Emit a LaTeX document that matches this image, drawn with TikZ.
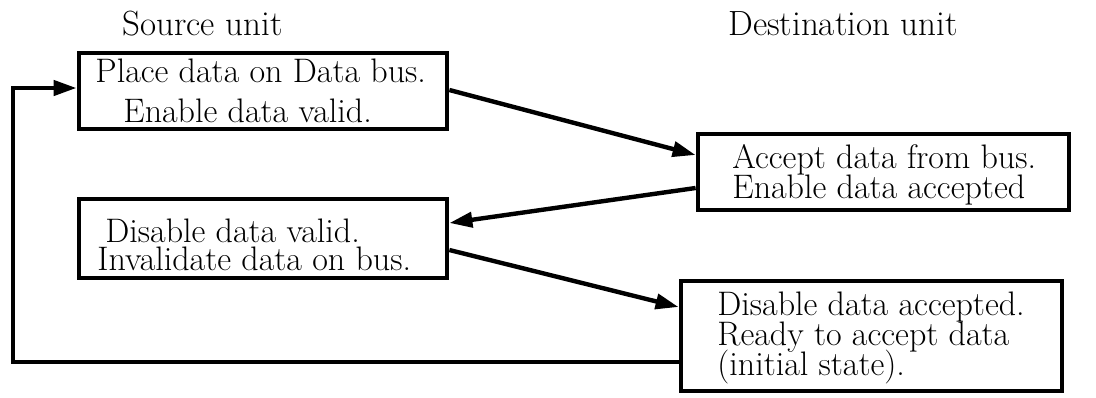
\documentclass[tikz,border=0pt]{standalone}
\usetikzlibrary{arrows.meta}
\begin{document}
\lineskiplimit=-100pt
\begin{tikzpicture}[x=0.5pt,y=-0.5pt,
  box/.style={draw,line width=2.4pt,rectangle,inner sep=0pt},
  txt/.style={anchor=north west,inner sep=0pt,align=left,
    font=\fontsize{17}{#1}\selectfont},
  head/.style={anchor=base west,inner sep=0pt,font=\fontsize{17.5}{20}\selectfont},
  arr/.style={line width=2.2pt,-{Triangle[length=11.5pt,width=7.5pt]}}]
\useasboundingbox (0,0) rectangle (1096,397);

% column headings
\node[head] (hsrc) at (122,35) {Source unit};
\node[head] (hdst) at (728,35) {Destination unit};

% step boxes
\node[box,minimum width=184pt,minimum height=38pt] (b1) at (263,91) {};
\node[box,minimum width=185.5pt,minimum height=38pt] (b2) at (883.5,172) {};
\node[box,minimum width=184pt,minimum height=39.5pt] (b3) at (263,238.5) {};
\node[box,minimum width=190.5pt,minimum height=55pt] (b4) at (871.5,336) {};

% box texts (top of first line = baseline minus ascender)
\node[txt=20pt] (t1) at (95,58) {Place data on Data bus.\\\kern14pt Enable data valid.};
\node[txt=15pt] (t2) at (732,144) {Accept data from bus.\\Enable data accepted};
\node[txt=14pt] (t3) at (97,218) {\kern4pt Disable data valid.\\Invalidate data on bus.};
\node[txt=15pt] (t4) at (717,291) {Disable data accepted.\\Ready to accept data\\(initial state).};

% handshake sequence
\draw[arr] ([yshift=0.5pt]b1.east) -- ([yshift=8.5pt]b2.west);
\draw[arr] ([yshift=-8pt]b2.west) -- ([yshift=7.75pt]b3.east);
\draw[arr] ([yshift=-5.75pt]b3.east) -- ([yshift=14.5pt]b4.west);

% return to the initial step
\coordinate (loopx) at (13,200);
\draw[arr] ([yshift=-13pt]b4.west) -| (loopx) |- ([yshift=1.5pt]b1.west);
\end{tikzpicture}
\end{document}
